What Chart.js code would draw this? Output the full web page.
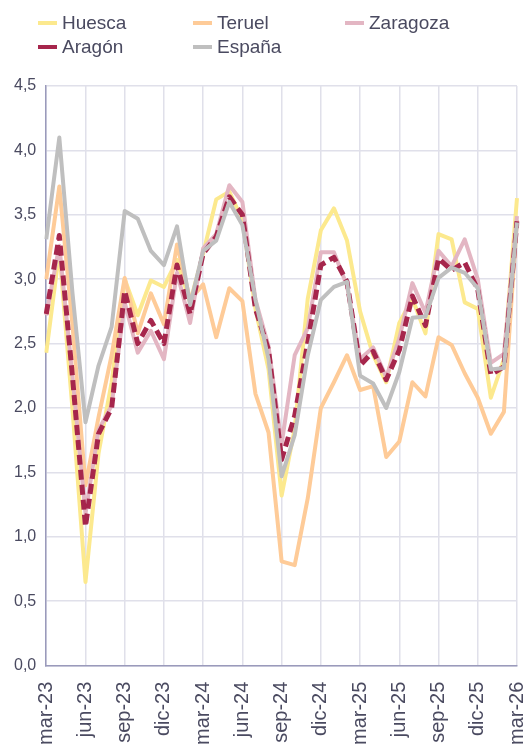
<!DOCTYPE html>
<html lang="es">
<head>
<meta charset="utf-8">
<title>IPC interanual</title>
<script src="https://cdn.jsdelivr.net/npm/chart.js@4.4.1/dist/chart.umd.min.js"></script>
<style>
    html, body { margin: 0; padding: 0; background: #fff; overflow: hidden; }
    #wrap { position: relative; width: 528px; height: 747px; overflow: hidden; }
    #chart { position: absolute; left: 0; top: 0; }
    .legend { position: absolute; left: 0; top: 0; width: 528px; height: 70px;
              font-family: "Liberation Sans", Arial, sans-serif; font-size: 19px; color: #4a4a60; }
    .legend .item { position: absolute; display: flex; align-items: center; white-space: nowrap; }
    .legend .swatch { width: 19px; height: 4px; margin-right: 5px; }
</style>
</head>
<body>
<div id="wrap">
    <canvas id="chart" width="528" height="761"></canvas>
    <div class="legend" id="legend"></div>
</div>
<script>
// meses de mar-23 a mar-26
const months = ['mar', 'abr', 'may', 'jun', 'jul', 'ago', 'sep', 'oct', 'nov', 'dic', 'ene', 'feb'];
const labels = [];
for (let i = 0; i <= 36; i++) {
    const m = months[i % 12];
    const year = 23 + Math.floor((i + 2) / 12);
    labels.push(m + '-' + year);
}

const huesca = [2.43, 3.22, 2.00, 0.65, 1.65, 2.20, 3.00, 2.72, 2.99, 2.94,
                3.15, 2.82, 3.20, 3.62, 3.68, 3.46, 2.77, 2.30, 1.32, 1.84,
                2.85, 3.38, 3.55, 3.30, 2.75, 2.41, 2.20, 2.66, 2.85, 2.58,
                3.35, 3.31, 2.82, 2.77, 2.08, 2.38, 3.63];
const teruel = [3.00, 3.72, 2.65, 1.40, 1.93, 2.41, 3.01, 2.58, 2.89, 2.65,
                3.27, 2.84, 2.96, 2.55, 2.93, 2.83, 2.11, 1.81, 0.81, 0.78,
                1.30, 2.00, 2.20, 2.41, 2.14, 2.17, 1.62, 1.74, 2.20, 2.09,
                2.55, 2.49, 2.27, 2.08, 1.80, 1.97, 3.46];
const zaragoza = [2.72, 3.26, 2.25, 1.18, 1.83, 2.02, 2.82, 2.43, 2.60, 2.38,
                  3.05, 2.66, 3.24, 3.35, 3.73, 3.60, 2.84, 2.48, 1.72, 2.41,
                  2.62, 3.21, 3.21, 2.95, 2.38, 2.47, 2.24, 2.54, 2.97, 2.74,
                  3.22, 3.10, 3.31, 3.00, 2.35, 2.42, 3.49];
const aragon = [2.73, 3.34, 2.25, 1.08, 1.80, 2.00, 2.91, 2.50, 2.68, 2.50,
                3.11, 2.73, 3.20, 3.33, 3.64, 3.50, 2.77, 2.45, 1.60, 1.94,
                2.51, 3.11, 3.17, 2.98, 2.33, 2.44, 2.22, 2.45, 2.87, 2.64,
                3.16, 3.07, 3.13, 2.92, 2.26, 2.32, 3.45];
const espana = [3.31, 4.10, 2.90, 1.89, 2.33, 2.63, 3.53, 3.47, 3.22, 3.11,
                3.41, 2.80, 3.22, 3.30, 3.60, 3.42, 2.84, 2.38, 1.47, 1.79,
                2.41, 2.84, 2.94, 2.98, 2.25, 2.19, 2.00, 2.28, 2.70, 2.71,
                3.01, 3.09, 3.05, 2.93, 2.30, 2.31, 3.44];

const series = [
    { name: 'Huesca',   data: huesca,   color: '#fce98e', width: 4, order: 5 },
    { name: 'Teruel',   data: teruel,   color: '#fecb98', width: 4, order: 4 },
    { name: 'Zaragoza', data: zaragoza, color: '#e3b6c3', width: 4, order: 3 },
    { name: 'Aragón',   data: aragon,   color: '#a6264c', width: 5, order: 2, dash: [10, 5] },
    { name: 'España',   data: espana,   color: '#bfbfbf', width: 4, order: 1 },
];

// leyenda en rejilla de tres columnas
const legendPos = [[38, 23], [193, 23], [345, 23], [38, 47], [193, 47]];
const legend = document.getElementById('legend');
series.forEach((s, i) => {
    const item = document.createElement('div');
    item.className = 'item';
    item.style.left = legendPos[i][0] + 'px';
    item.style.top = (legendPos[i][1] - 11) + 'px';
    item.innerHTML = '<span class="swatch" style="background:' + s.color + '"></span>' + s.name;
    legend.appendChild(item);
});

const textColor = '#4a4a60';
const gridColor = '#e0e0ea';
const axisColor = '#9a9abb';

new Chart(document.getElementById('chart').getContext('2d'), {
    type: 'line',
    data: {
        labels: labels,
        datasets: series.map(s => ({
            label: s.name,
            data: s.data,
            borderColor: s.color,
            backgroundColor: s.color,
            borderWidth: s.width,
            borderDash: s.dash || [],
            borderJoinStyle: 'round',
            pointRadius: 0,
            tension: 0,
            order: s.order,
        })),
    },
    options: {
        responsive: false,
        animation: false,
        layout: { padding: { top: 86, left: 4, right: 0, bottom: 0 } },
        plugins: {
            legend: { display: false },
            tooltip: { enabled: false },
        },
        scales: {
            x: {
                offset: false,
                // the rotated labels ask for too much room on the right
                afterFit: scale => { scale.paddingRight = 11; },
                grid: {
                    color: ctx => (ctx.index % 3 === 0 ? gridColor : 'rgba(0,0,0,0)'),
                    lineWidth: 1.5,
                    drawTicks: false,
                },
                border: { color: axisColor, width: 1.5 },
                ticks: {
                    autoSkip: false,
                    minRotation: 90,
                    maxRotation: 90,
                    padding: 16,
                    color: textColor,
                    font: { family: '"Liberation Sans", Arial, sans-serif', size: 20 },
                    callback: function (value, index) {
                        return index % 3 === 0 ? labels[index] : '';
                    },
                },
            },
            y: {
                min: 0,
                max: 4.5,
                grid: { color: gridColor, lineWidth: 1.5, drawTicks: false },
                border: { color: axisColor, width: 1.5 },
                ticks: {
                    stepSize: 0.5,
                    padding: 10,
                    color: textColor,
                    font: { family: '"Liberation Sans", Arial, sans-serif', size: 16 },
                    callback: v => v.toFixed(1).replace('.', ','),
                },
            },
        },
    },
});
</script>
</body>
</html>
